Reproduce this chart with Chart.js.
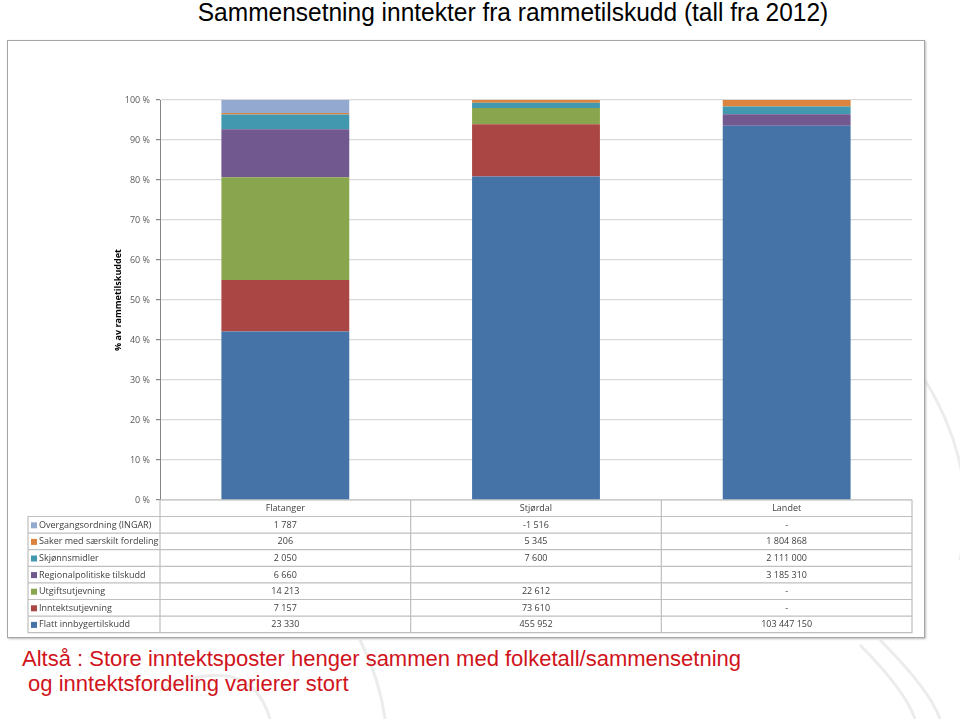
<!DOCTYPE html>
<html>
<head>
<meta charset="utf-8">
<script src="https://cdn.jsdelivr.net/npm/chart.js@4.4.0/dist/chart.umd.min.js"></script>
<style>
  body { margin: 0; width: 960px; height: 719px; background: #fff; position: relative; overflow: hidden; font-family: "Liberation Sans", Arial, sans-serif; }
  #bg { position: absolute; left: 0; top: 0; }
  #title { position: absolute; left: 0; width: 1026px; top: -2px; text-align: center; font-size: 25px; color: #000; line-height: 28px; transform: scaleX(0.98); transform-origin: 513px 0; }
  #box { position: absolute; left: 7px; top: 40px; width: 916px; height: 596px; border: 1px solid #a6a6a6; box-shadow: 1px 1px 2px #bbb; background: #fff; }
  #caption { position: absolute; left: 22px; top: 646px; font-size: 22px; line-height: 25px; color: #d0141c; white-space: pre; }
</style>
</head>
<body>
<svg id="bg" width="960" height="719">
  <g fill="none" stroke="#ececec" stroke-width="3">
    <path d="M925 380 Q 980 470 960 560" />
    <path d="M880 640 Q 930 690 940 719" />
    <path d="M860 645 Q 905 690 915 719" />
    <path d="M360 640 Q 380 680 385 719" />
    <path d="M160 690 Q 250 650 270 719" />
  </g>
</svg>
<div id="title">Sammensetning inntekter fra rammetilskudd (tall fra 2012)</div>
<div id="box"><canvas id="chart" width="916" height="596"></canvas></div>
<div id="caption">Altså : Store inntektsposter henger sammen med folketall/sammensetning
 og inntektsfordeling varierer stort</div>
<script>
// kommuner / kolonner
const categories = ["Flatanger", "Stjørdal", "Landet"];

// beløp per post (1000 kr), null = "-", 0 = tom celle
const flattInnbyggertilskudd = [23330, 455952, 103447150];
const inntektsutjevning = [7157, 73610, null];
const utgiftsutjevning = [14213, 22612, null];
const regionalpolitiskeTilskudd = [6660, 0, 3185310];
const skjonnsmidler = [2050, 7600, 2111000];
const sakerMedSaerskiltFordeling = [206, 5345, 1804868];
const overgangsordning = [1787, -1516, null];

const yTicks = [0, 10, 20, 30, 40, 50, 60, 70, 80, 90, 100];

// rekkefølge nedenfra og opp i stabelen
const series = [
  { label: "Flatt innbygertilskudd", values: flattInnbyggertilskudd, color: "#4572A7" },
  { label: "Inntektsutjevning", values: inntektsutjevning, color: "#AA4643" },
  { label: "Utgiftsutjevning", values: utgiftsutjevning, color: "#89A54E" },
  { label: "Regionalpolitiske tilskudd", values: regionalpolitiskeTilskudd, color: "#71588F" },
  { label: "Skjønnsmidler", values: skjonnsmidler, color: "#4198AF" },
  { label: "Saker med særskilt fordeling", values: sakerMedSaerskiltFordeling, color: "#DB843D" },
  { label: "Overgangsordning (INGAR)", values: overgangsordning, color: "#93A9CF" },
];

const totals = categories.map((c, i) =>
  series.reduce((s, d) => s + (d.values[i] || 0), 0));

function fmt(v) {
  if (v === null) return "-";
  if (v === 0) return "";
  const s = String(Math.abs(v)).replace(/\B(?=(\d{3})+(?!\d))/g, " ");
  return (v < 0 ? "-" : "") + s;
}

const tableFont = "9px 'Open Sans', 'Liberation Sans', sans-serif";

const tablePlugin = {
  id: "dataTable",
  afterDraw(chart) {
    const ctx = chart.ctx;
    const area = chart.chartArea;
    const x = chart.scales.x;
    const top = area.bottom;
    const headH = 16.5;
    const rowH = 16.6;
    const left = 20;
    const colW = (area.right - area.left) / categories.length;
    const rows = series.slice().reverse();
    const bottom = top + headH + rowH * rows.length;

    ctx.save();
    ctx.strokeStyle = "#bfbfbf";
    ctx.lineWidth = 1.2;
    ctx.beginPath();
    ctx.moveTo(area.left, top + headH);
    ctx.lineTo(area.left, top);
    ctx.lineTo(area.right, top);
    ctx.lineTo(area.right, bottom);
    ctx.lineTo(left, bottom);
    ctx.lineTo(left, top + headH);
    ctx.lineTo(area.right, top + headH);
    for (let r = 1; r < rows.length; r++) {
      const yy = top + headH + r * rowH;
      ctx.moveTo(left, yy);
      ctx.lineTo(area.right, yy);
    }
    for (let c = 0; c <= categories.length; c++) {
      const xx = area.left + c * colW;
      ctx.moveTo(xx, top);
      ctx.lineTo(xx, bottom);
    }
    ctx.stroke();

    ctx.font = tableFont;
    ctx.fillStyle = "#404040";
    ctx.textAlign = "center";
    ctx.textBaseline = "middle";
    categories.forEach((c, i) => {
      ctx.fillText(c, x.getPixelForValue(i), top + headH / 2 + 0.5);
    });
    rows.forEach((s, r) => {
      const yy = top + headH + r * rowH + rowH / 2 + 0.5;
      ctx.fillStyle = s.color;
      ctx.fillRect(left + 3, yy - 3, 6, 6);
      ctx.fillStyle = "#404040";
      ctx.textAlign = "left";
      ctx.fillText(s.label, left + 11, yy);
      ctx.textAlign = "center";
      categories.forEach((c, i) => {
        ctx.fillText(fmt(s.values[i]), x.getPixelForValue(i), yy);
      });
    });

    // y-aksetittel
    ctx.translate(110, (area.top + area.bottom) / 2);
    ctx.rotate(-Math.PI / 2);
    ctx.font = "bold 9px 'Open Sans', 'Liberation Sans', sans-serif";
    ctx.fillStyle = "#000";
    ctx.textAlign = "center";
    ctx.fillText("% av rammetilskuddet", 0, 0);
    ctx.restore();
  }
};

new Chart(document.getElementById("chart").getContext("2d"), {
  type: "bar",
  data: {
    labels: categories,
    datasets: series.map(s => ({
      label: s.label,
      data: s.values.map((v, i) => ((v || 0) / totals[i]) * 100),
      backgroundColor: s.color,
      borderWidth: 0,
      barPercentage: 0.51,
      categoryPercentage: 1,
    })),
  },
  options: {
    responsive: false,
    animation: false,
    layout: { padding: { top: 59, right: 12, bottom: 137, left: 0 } },
    plugins: { legend: { display: false }, tooltip: { enabled: false } },
    scales: {
      x: { stacked: true, display: false },
      y: {
        stacked: true,
        min: 0,
        max: 100,
        afterFit(scale) { scale.width = 152; },
        afterBuildTicks(scale) { scale.ticks = yTicks.map(v => ({ value: v })); },
        ticks: {
          callback: v => v + " %",
          color: "#595959",
          font: { family: "'Open Sans', 'Liberation Sans', sans-serif", size: 9 },
          padding: 6,
        },
        grid: { color: "#d9d9d9", lineWidth: 1.2, tickLength: 4, tickColor: "#868686" },
        border: { color: "#868686" },
      },
    },
  },
  plugins: [tablePlugin],
});
</script>
</body>
</html>
